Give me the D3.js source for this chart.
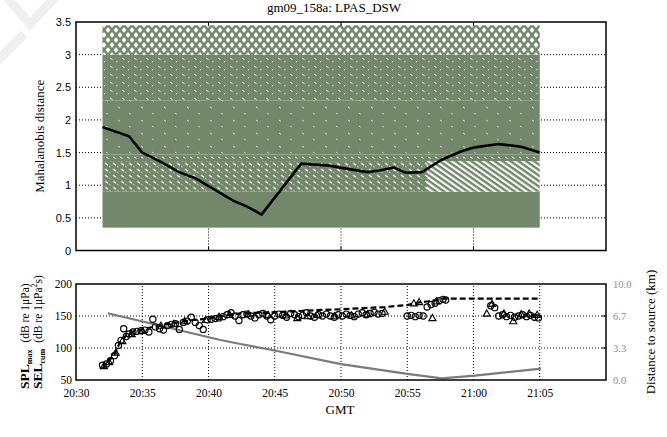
<!DOCTYPE html>
<html>
<head>
<meta charset="utf-8">
<script src="https://cdn.jsdelivr.net/npm/d3@7"></script>
<style>
  body { margin: 0; background: #fff; }
  svg { display: block; }
</style>
</head>
<body>
<svg id="chart" width="667" height="437"></svg>
<script>
// ---------------- data ----------------
const chartTitle = "gm09_158a: LPAS_DSW";

// Mahalanobis distance of the tracked signal
const mahalTimes = ["20:32:00","20:34:00","20:35:00","20:36:18","20:37:36","20:38:24","20:39:00",
  "20:40:54","20:41:54","20:43:00","20:44:00","20:47:00","20:49:06","20:50:30","20:52:00",
  "20:53:00","20:54:00","20:54:54","20:56:06","20:57:36","20:59:06","21:00:06","21:01:54",
  "21:03:36","21:05:00"];
const mahalValues = [1.89,1.75,1.50,1.37,1.22,1.15,1.11,0.88,0.76,0.665,0.55,1.33,1.30,1.25,1.20,
  1.23,1.27,1.19,1.20,1.39,1.52,1.58,1.63,1.59,1.50];

// Envelope of the reference-class distance traces (bands and their texture)
const refBandLow     = [0.35, 0.90, 0.90, 1.37, 1.47, 2.30, 3.00];
const refBandHigh    = [0.90, 1.37, 1.37, 1.47, 2.30, 3.00, 3.45];
const refBandStart   = ["20:32:00","20:32:00","20:56:30","20:32:00","20:32:00","20:32:00","20:32:00"];
const refBandEnd     = ["21:05:00","20:56:30","21:05:00","21:05:00","21:05:00","21:05:00","21:05:00"];
const refBandTexture = ["solid","flecks","diag","row","sparse","medium","cross"];

// SPLmax per detection (circles)
const splTimes = ["20:32:00","20:32:18","20:32:36","20:32:54","20:33:12","20:33:24","20:33:36","20:33:48",
  "20:34:00","20:34:18","20:34:36","20:34:54","20:35:12","20:35:30","20:35:48","20:36:00","20:36:18",
  "20:36:36","20:36:54","20:37:12","20:37:30","20:37:48","20:38:06","20:38:24","20:38:42","20:39:00",
  "20:39:18","20:39:36","20:39:54","20:40:12","20:40:30","20:40:48","20:41:06","20:41:24","20:41:42",
  "20:42:00","20:42:18","20:42:36","20:42:54","20:43:12","20:43:30","20:43:48","20:44:06","20:44:24",
  "20:44:42","20:45:00","20:45:18","20:45:36","20:45:54","20:46:12","20:46:30","20:46:48","20:47:06",
  "20:47:24","20:47:42","20:48:00","20:48:18","20:48:36","20:48:54","20:49:12","20:49:30","20:49:48",
  "20:50:06","20:50:24","20:50:42","20:51:00","20:51:18","20:51:36","20:51:54","20:52:12","20:52:30",
  "20:52:48","20:53:06",
  "20:55:00","20:55:18","20:55:36","20:55:54","20:56:12","20:56:30","20:56:48","20:57:06","20:57:24",
  "20:57:42","20:57:54",
  "21:01:18","21:01:36","21:01:54","21:02:12","21:02:30","21:02:48","21:03:06","21:03:24","21:03:42",
  "21:04:00","21:04:18","21:04:36","21:04:54"];
const splValues = [73,75,80,88,104,112,130,118,122,125,126,127,128,125,145,133,130,128,135,137,138,129,
  140,142,148,140,135,129,144,145,146,147,149,152,155,150,143,152,153,150,147,152,154,150,144,150,153,
  151,148,154,152,149,151,155,150,148,152,150,153,150,148,152,150,153,151,149,153,155,152,154,156,153,154,
  150,151,149,151,150,164,168,170,174,176,175,
  166,163,150,152,149,151,148,150,152,149,151,148,147];

// second detector (triangles)
const triTimes = ["20:32:06","20:32:30","20:33:00","20:33:30","20:34:12","20:35:00","20:36:24","20:37:24",
  "20:38:12","20:39:48","20:40:48","20:41:36","20:43:00","20:44:30","20:45:48","20:46:42","20:47:30",
  "20:48:12","20:49:30","20:50:48","20:52:00","20:53:18","20:55:30","20:55:54","20:56:54","20:57:12",
  "21:01:00","21:01:24","21:02:18","21:03:00","21:03:36","21:04:12","21:04:48"];
const triValues = [71,77,92,110,121,126,134,137,141,143,148,151,152,151,150,146,149,151,149,150,152,156,
  169,171,146,172,153,168,153,141,152,153,151];

// cumulative SEL (dashed)
const selTimes = ["20:32:00","20:32:54","20:33:18","20:33:48","20:34:18","20:35:18","20:36:30","20:37:36",
  "20:38:48","20:40:06","20:41:24","20:42:24","20:45:00","20:48:00","20:50:00","20:53:18","20:55:00",
  "20:55:48","20:56:36","20:57:24","20:57:42","21:05:00"];
const selValues = [68,90,108,120,125.5,130.7,136,139.6,143.7,146.4,151.6,154,156,159,160.5,164,167,171,
  173,176,177,177];

// distance to source, km (grey)
const distTimes = ["20:32:24","20:40:54","20:42:24","20:44:54","20:50:00","20:55:00","20:57:36","21:00:06","21:05:06"];
const distValues = [6.95,4.17,3.75,3.10,1.65,0.63,0.17,0.45,1.18];

// axis ticks
const topYTicks = [0,0.5,1,1.5,2,2.5,3,3.5];
const topXGrid = ["20:40:00","20:50:00","21:00:00"];
const botXTicks = ["20:30:00","20:35:00","20:40:00","20:45:00","20:50:00","20:55:00","21:00:00","21:05:00"];
const botYTicks = [50,100,150,200];
const distTicks = [0,3.333,6.667,10];

// ---------------- drawing ----------------
const parseT = d3.timeParse("%H:%M:%S");
const svg = d3.select("#chart");
const serif = "'Liberation Serif','Times New Roman',serif";
const sans = "'Liberation Sans',Arial,sans-serif";
const green = "#73876b";

const x = d3.scaleTime().domain([parseT("20:30:00"), parseT("21:10:00")]).range([76, 606]);
const yTop = d3.scaleLinear().domain([0, 3.5]).range([250.5, 22]);
const yBot = d3.scaleLinear().domain([50, 200]).range([380, 284]);
const yDist = d3.scaleLinear().domain([0, 10]).range([380, 284]);

// faint mark in the page corner
svg.append("path").attr("d", "M4,-6 L30,24 L58,-6").attr("fill", "none")
  .attr("stroke", "#efefef").attr("stroke-width", 9);
svg.append("path").attr("d", "M-4,62 L24,34").attr("fill", "none")
  .attr("stroke", "#efefef").attr("stroke-width", 9);

// title
svg.append("text").attr("x", 334).attr("y", 12).attr("text-anchor", "middle")
  .attr("font-family", serif).attr("font-size", 13).text(chartTitle);

// textures for the reference envelope
const defs = svg.append("defs");
function pat(id, w, h, bg, build, transform) {
  const p = defs.append("pattern").attr("id", id).attr("patternUnits", "userSpaceOnUse")
    .attr("width", w).attr("height", h);
  if (transform) p.attr("patternTransform", transform);
  p.append("rect").attr("width", w).attr("height", h).attr("fill", bg);
  build(p);
}
pat("pFlecks", 8, 6, green, p => {
  p.append("line").attr("x1", 1).attr("y1", 1).attr("x2", 4).attr("y2", 3.2).attr("stroke", "#fff").attr("stroke-width", 1.1);
  p.append("line").attr("x1", 5).attr("y1", 4).attr("x2", 6.6).attr("y2", 5.1).attr("stroke", "#e4e9e2").attr("stroke-width", 0.8);
});
pat("pDiag", 4.5, 4.5, "#fff", p => {
  p.append("rect").attr("width", 4.5).attr("height", 2.4).attr("fill", green);
}, "rotate(35)");
pat("pRow", 7, 5, green, p => {
  p.append("line").attr("x1", 1).attr("y1", 2).attr("x2", 3.5).attr("y2", 3.3).attr("stroke", "#fff").attr("stroke-width", 1);
});
pat("pSparse", 23, 13, green, p => {
  p.append("line").attr("x1", 3).attr("y1", 3).attr("x2", 5).attr("y2", 4.4).attr("stroke", "#f2f4f1").attr("stroke-width", 0.8);
  p.append("line").attr("x1", 14).attr("y1", 9).attr("x2", 15.8).attr("y2", 10.2).attr("stroke", "#dfe5dd").attr("stroke-width", 0.8);
});
pat("pMedium", 12, 8, green, p => {
  p.append("line").attr("x1", 2).attr("y1", 2).attr("x2", 4.5).attr("y2", 3.6).attr("stroke", "#fff").attr("stroke-width", 0.9);
  p.append("line").attr("x1", 8).attr("y1", 6).attr("x2", 9.6).attr("y2", 5).attr("stroke", "#eef1ed").attr("stroke-width", 0.8);
});
pat("pCross", 8, 10, "#fff", p => {
  p.append("path").attr("d", "M-1,-1.25 L9,11.25 M9,-1.25 L-1,11.25").attr("stroke", green).attr("stroke-width", 2.5);
});
const textureFill = {
  solid: green, flecks: "url(#pFlecks)", diag: "url(#pDiag)", row: "url(#pRow)",
  sparse: "url(#pSparse)", medium: "url(#pMedium)", cross: "url(#pCross)"
};

// ===== top panel =====
const gTop = svg.append("g");
const [x0, x1] = x.range();

gTop.selectAll("line.hg").data(topYTicks.filter(d => d > 0 && d < 3.5)).join("line")
  .attr("x1", x0).attr("x2", x1).attr("y1", d => yTop(d)).attr("y2", d => yTop(d))
  .attr("stroke", "#000").attr("stroke-width", 1).attr("stroke-dasharray", "1,2");
gTop.selectAll("line.vg").data(topXGrid.map(parseT)).join("line")
  .attr("x1", d => x(d)).attr("x2", d => x(d)).attr("y1", yTop(0)).attr("y2", yTop(3.5))
  .attr("stroke", "#000").attr("stroke-width", 1).attr("stroke-dasharray", "1,2");

gTop.selectAll("rect.band").data(d3.range(refBandLow.length)).join("rect")
  .attr("x", i => x(parseT(refBandStart[i])))
  .attr("width", i => x(parseT(refBandEnd[i])) - x(parseT(refBandStart[i])))
  .attr("y", i => yTop(refBandHigh[i]))
  .attr("height", i => yTop(refBandLow[i]) - yTop(refBandHigh[i]))
  .attr("fill", i => textureFill[refBandTexture[i]]);

const mahal = mahalTimes.map((t, i) => ({ t: parseT(t), v: mahalValues[i] }));
gTop.append("path").datum(mahal)
  .attr("d", d3.line().x(d => x(d.t)).y(d => yTop(d.v)))
  .attr("fill", "none").attr("stroke", "#000").attr("stroke-width", 2.6).attr("stroke-linejoin", "round");

// inward ticks
gTop.selectAll("line.tt").data(topXGrid.map(parseT)).join("line")
  .attr("x1", d => x(d)).attr("x2", d => x(d)).attr("y1", yTop(3.5)).attr("y2", yTop(3.5) + 4)
  .attr("stroke", "#000");
gTop.selectAll("line.tb").data(topXGrid.map(parseT)).join("line")
  .attr("x1", d => x(d)).attr("x2", d => x(d)).attr("y1", yTop(0)).attr("y2", yTop(0) - 4)
  .attr("stroke", "#000");

gTop.append("rect").attr("x", x0).attr("y", yTop(3.5)).attr("width", x1 - x0)
  .attr("height", yTop(0) - yTop(3.5)).attr("fill", "none").attr("stroke", "#000").attr("stroke-width", 1.5);

const axTop = gTop.append("g").attr("transform", `translate(${x0},0)`)
  .call(d3.axisLeft(yTop).tickValues(topYTicks).tickSize(0).tickPadding(5).tickFormat(d3.format("~g")));
axTop.select(".domain").remove();
axTop.selectAll("text").attr("font-family", sans).attr("font-size", 11).attr("fill", "#000");

svg.append("text").attr("transform", `translate(44,${(yTop(0) + yTop(3.5)) / 2}) rotate(-90)`)
  .attr("text-anchor", "middle").attr("font-family", serif).attr("font-size", 13)
  .text("Mahalanobis distance");

// ===== bottom panel =====
const gBot = svg.append("g");
gBot.selectAll("line.hg").data([100, 150]).join("line")
  .attr("x1", x0).attr("x2", x1).attr("y1", d => yBot(d)).attr("y2", d => yBot(d))
  .attr("stroke", "#000").attr("stroke-width", 1).attr("stroke-dasharray", "1,2");
gBot.selectAll("line.vg").data(botXTicks.slice(1).map(parseT)).join("line")
  .attr("x1", d => x(d)).attr("x2", d => x(d)).attr("y1", yBot(50)).attr("y2", yBot(200))
  .attr("stroke", "#000").attr("stroke-width", 1).attr("stroke-dasharray", "1,2");

const dist = distTimes.map((t, i) => ({ t: parseT(t), v: distValues[i] }));
gBot.append("path").datum(dist)
  .attr("d", d3.line().x(d => x(d.t)).y(d => yDist(d.v)))
  .attr("fill", "none").attr("stroke", "#7a7a7a").attr("stroke-width", 2.2);

const sel = selTimes.map((t, i) => ({ t: parseT(t), v: selValues[i] }));
gBot.append("path").datum(sel)
  .attr("d", d3.line().x(d => x(d.t)).y(d => yBot(d.v)))
  .attr("fill", "none").attr("stroke", "#000").attr("stroke-width", 2.2).attr("stroke-dasharray", "6,3");

const spl = splTimes.map((t, i) => ({ t: parseT(t), v: splValues[i] }));
gBot.selectAll("circle.spl").data(spl).join("circle")
  .attr("cx", d => x(d.t)).attr("cy", d => yBot(d.v)).attr("r", 3.1)
  .attr("fill", "none").attr("stroke", "#000").attr("stroke-width", 1.15);

const tri = triTimes.map((t, i) => ({ t: parseT(t), v: triValues[i] }));
gBot.selectAll("path.tri").data(tri).join("path")
  .attr("transform", d => `translate(${x(d.t)},${yBot(d.v)})`)
  .attr("d", d3.symbol(d3.symbolTriangle, 22))
  .attr("fill", "none").attr("stroke", "#000").attr("stroke-width", 1.1);

gBot.append("rect").attr("x", x0).attr("y", yBot(200)).attr("width", x1 - x0)
  .attr("height", yBot(50) - yBot(200)).attr("fill", "none").attr("stroke", "#000").attr("stroke-width", 1.5);

const axB = gBot.append("g").attr("transform", `translate(0,${yBot(50)})`)
  .call(d3.axisBottom(x).tickValues(botXTicks.map(parseT)).tickSize(0).tickPadding(9)
    .tickFormat(d3.timeFormat("%H:%M")));
axB.select(".domain").remove();
axB.selectAll("text").attr("font-family", serif).attr("font-size", 11.5).attr("fill", "#000");

const axL = gBot.append("g").attr("transform", `translate(${x0},0)`)
  .call(d3.axisLeft(yBot).tickValues(botYTicks).tickSize(0).tickPadding(4));
axL.select(".domain").remove();
axL.selectAll("text").attr("font-family", serif).attr("font-size", 11.5).attr("fill", "#000");

const axR = gBot.append("g").attr("transform", `translate(${x1},0)`)
  .call(d3.axisRight(yDist).tickValues(distTicks).tickSize(0).tickPadding(7).tickFormat(d3.format(".1f")));
axR.select(".domain").remove();
axR.selectAll("text").attr("font-family", serif).attr("font-size", 10.5).attr("fill", "#8c8c8c");

// inward ticks on the right edge
gBot.selectAll("line.rt").data(distTicks.slice(1, 3)).join("line")
  .attr("x1", x1).attr("x2", x1 - 4).attr("y1", d => yDist(d)).attr("y2", d => yDist(d)).attr("stroke", "#000");

svg.append("text").attr("x", 340).attr("y", 414).attr("text-anchor", "middle")
  .attr("font-family", serif).attr("font-size", 13).text("GMT");

svg.append("text").attr("transform", `translate(655,${(yDist(0) + yDist(10)) / 2}) rotate(-90)`)
  .attr("text-anchor", "middle").attr("font-family", serif).attr("font-size", 13)
  .text("Distance to source (km)");

// stacked left labels: SPLmax and SELcum
const splLab = svg.append("text").attr("transform", "translate(29,389) rotate(-90)")
  .attr("font-family", serif).attr("font-size", 11.5);
splLab.append("tspan").attr("font-weight", "bold").attr("font-size", 13.5).text("SPL");
splLab.append("tspan").attr("font-weight", "bold").attr("font-size", 8).attr("dy", 3).text("max");
splLab.append("tspan").attr("dy", -3).attr("dx", 7).text("(dB re 1μPa)");

const selLab = svg.append("text").attr("transform", "translate(42,389) rotate(-90)")
  .attr("font-family", serif).attr("font-size", 11.5);
selLab.append("tspan").attr("font-weight", "bold").attr("font-size", 13.5).text("SEL");
selLab.append("tspan").attr("font-weight", "bold").attr("font-size", 8).attr("dy", 3).text("cum");
selLab.append("tspan").attr("dy", -3).attr("dx", 6).text("(dB re 1μPa");
selLab.append("tspan").attr("font-size", 8).attr("dy", -5).text("2");
selLab.append("tspan").attr("dy", 5).text("s)");
</script>
</body>
</html>
